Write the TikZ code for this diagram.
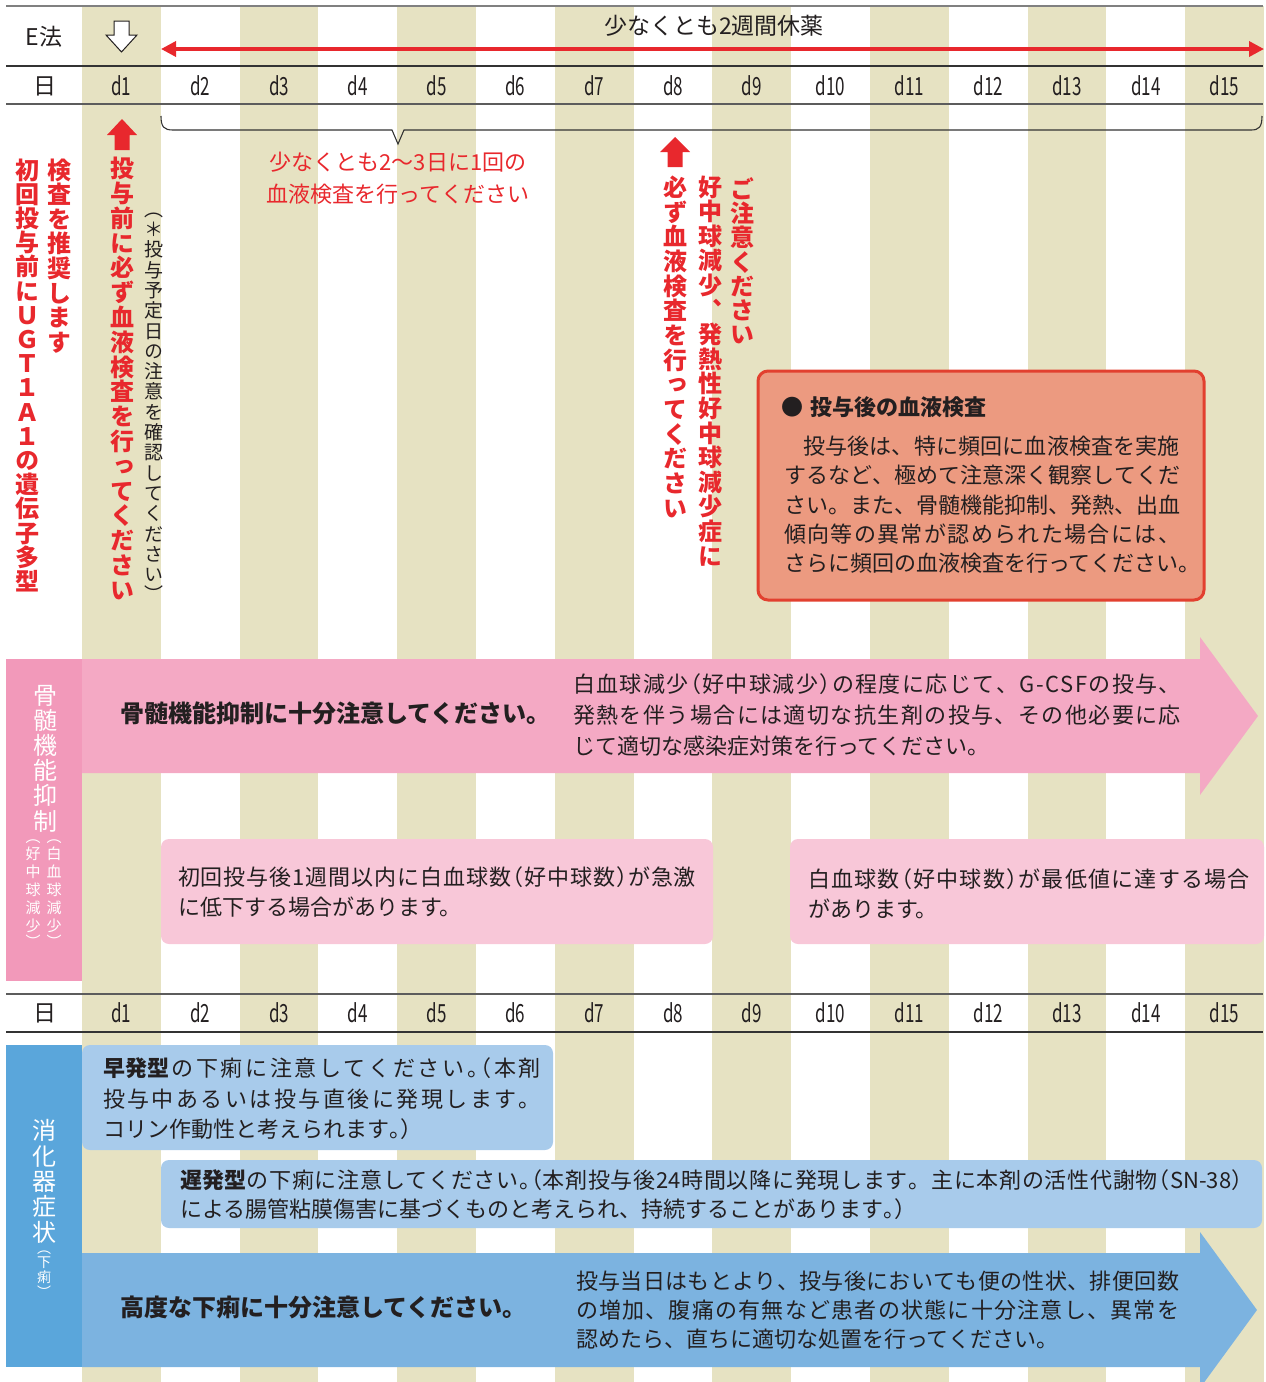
\documentclass[tikz,border=0pt]{standalone}
\usepackage{fontspec}
\setmainfont{Noto Sans CJK JP}
\newfontfamily\vfont{Noto Sans CJK JP}[RawFeature=+vert]
\newfontfamily\condfont{Noto Sans CJK JP}[FakeStretch=0.68]
\usetikzlibrary{arrows.meta}
\definecolor{ink}{HTML}{231F20}
\definecolor{redc}{HTML}{E8282D}
\definecolor{stripe}{HTML}{E6E2C2}
\definecolor{pinkband}{HTML}{F4A9C4}
\definecolor{pinklabel}{HTML}{F299BA}
\definecolor{lightpink}{HTML}{F8C7D8}
\definecolor{bluelabel}{HTML}{5AA6DB}
\definecolor{blueband}{HTML}{7CB3E0}
\definecolor{lightblue}{HTML}{A8CBEB}
\definecolor{salmon}{HTML}{EC9A80}
\definecolor{salmonedge}{HTML}{E2402F}
\definecolor{rulegray}{HTML}{808080}
\definecolor{ruledark}{HTML}{333333}
\newcommand\fs[2]{\fontsize{#1}{#2}\selectfont}
\newcommand\sq{\rule[-0.12em]{0pt}{1em}}
% justified line: glue between every token
\def\jfirst#1{{#1}\jrest}
\def\jrest#1{\ifx\relax#1\else\hskip0pt plus 1fil{#1}\expandafter\jrest\fi}
\newcommand\jl[2]{\hbox to #1{\jfirst#2\relax}}
\newcommand\lp{\makebox[0.5em][r]{（}}
\newcommand\rp{\makebox[0.5em][l]{）}}
\newcommand\hmaru{\makebox[0.5em][l]{。}}
% vertical stacking
\newcommand\vo{VOPEN}
\newcommand\vc{VCLOSE}
\newcommand\vtchar[1]{\hbox to 1em{\hss\raisebox{0pt}[0.88em][0.12em]{#1}\hss}}
\newcommand\vtopen{\hbox to 1em{\hss\raisebox{0.5em}[0.88em][0.12em]{（}\hss}\vskip-0.5\baselineskip}
\newcommand\vtclose{\vskip-0.5\baselineskip\hbox to 1em{\hss\raisebox{-0.5em}[0.38em][0.12em]{）}\hss}}
\def\vtdo#1{\ifx\vo#1\vtopen\else\ifx\vc#1\vtclose\else\vtchar{#1}\fi\fi}
\def\vtloop#1{\ifx\relax#1\let\vtnext\relax\else\vtdo#1\let\vtnext\vtloop\fi\vtnext}
\newcommand\vtext[2]{\vbox{\baselineskip=#1\relax\lineskiplimit=-100pt\lineskip=0pt\vtloop#2\relax}}
\begin{document}
\begin{tikzpicture}[x=1pt, y=-1pt,
  every node/.style={inner sep=0pt, outer sep=0pt},
  tx/.style={text=ink, font=\fs{22}{30}, execute at begin node=\sq},
  day/.style={text=ink, font=\condfont\fs{25}{25}, execute at begin node=\sq},
  vt/.style={anchor=north},
  vred/.style={vt, text=redc, font=\vfont\bfseries\fs{24}{24}},
  vwhite/.style={vt, text=white, font=\vfont\fs{24}{24}},
  vsmall/.style={vt, text=white, font=\vfont\fs{15}{15}},
  hrule/.style={line width=1.4pt},
  boxshape/.style={anchor=north west, rounded corners=8pt},
]
\useasboundingbox (0,0) rectangle (1266,1382);
% stripes
\foreach \k in {0,2,...,14}{
  \fill[stripe] ({82+\k*78.8},6) rectangle ({82+(\k+1)*78.8},1382);
}
% rules
\coordinate (r1a) at (6,6);    \coordinate (r1b) at (1263,6);
\coordinate (r2a) at (6,66);   \coordinate (r2b) at (1263,66);
\coordinate (r3a) at (6,104);  \coordinate (r3b) at (1263,104);
\coordinate (r4a) at (6,994);  \coordinate (r4b) at (1263,994);
\coordinate (r5a) at (6,1032); \coordinate (r5b) at (1263,1032);
\draw[hrule, rulegray] (r1a) -- (r1b);
\draw[hrule, ruledark] (r2a) -- (r2b);
\draw[hrule, ruledark!80!white] (r3a) -- (r3b);
\draw[hrule, ruledark!80!white] (r4a) -- (r4b);
\draw[hrule, ruledark] (r5a) -- (r5b);
% header
\node[tx, font=\fs{23}{23}] (eho) at (44,37) {E法};
\node[tx, font=\fs{23}{23}] (hi1) at (45,86) {日};
\node[tx, font=\fs{23}{23}] (hi2) at (45,1013) {日};
\foreach \k in {1,...,15}{
  \node[day] (dt\k) at ({82+(\k-0.5)*78.8},86) {d\k};
  \node[day] (db\k) at ({82+(\k-0.5)*78.8},1013) {d\k};
}
\node[tx, font=\fs{23}{23}] (kyuyaku) at (714,26) {少なくとも2週間休薬};
\coordinate (ka) at (161,49); \coordinate (kb) at (1264,49);
\draw[redc, line width=3.5pt, {Triangle[length=15pt,width=15pt]}-{Triangle[length=15pt,width=15pt]}] (ka) -- (kb);
% white down arrow at d1
\draw[ink, line width=1pt, fill=white, line join=miter] (114,21) -- (129,21) -- (129,35) -- (137,35) -- (121.5,52) -- (106,35) -- (114,35) -- cycle;
% brace
\draw[ruledark, line width=1.1pt] (161,116) .. controls (161,127) and (164,130) .. (173,130) -- (392,130) -- (398,144) -- (404,130) -- (1251,130) .. controls (1259,130) and (1262,127) .. (1262,116);
\node[tx, text=redc, align=center, anchor=north, font=\fs{22}{32}] (bracelbl) at (398,152) {少なくとも2〜3日に1回の\\血液検査を行ってください};
% red up arrows
\fill[redc] (122,119) -- (137,135) -- (129.5,135) -- (129.5,150) -- (114.5,150) -- (114.5,135) -- (107,135) -- cycle;
\fill[redc] (675,137) -- (690,152) -- (682.5,152) -- (682.5,167) -- (667.5,167) -- (667.5,152) -- (660,152) -- cycle;
% vertical texts
\node[vred] (vcol1) at (27,158) {\vtext{24.2pt}{初回投与前にＵＧＴ１Ａ１の遺伝子多型}};
\node[vred] (vcol2) at (59,158) {\vtext{24.6pt}{検査を推奨します}};
\node[vred] (vcol3) at (122,156.5) {\vtext{24.8pt}{投与前に必ず血液検査を行ってください}};
\node[vt, text=ink, font=\vfont\fs{19}{19}] (vnote) at (154,199.5) {\vtext{20.3pt}{（＊投与予定日の注意を確認してください）}};
\node[vred] (vcol4) at (675,175.5) {\vtext{24.65pt}{必ず血液検査を行ってください}};
\node[vred] (vcol5) at (710,175) {\vtext{24.6pt}{好中球減少、発熱性好中球減少症に}};
\node[vred] (vcol6) at (742,177) {\vtext{24.3pt}{ご注意ください}};
% salmon box
\node[boxshape, fill=salmon, draw=salmonedge, line width=3pt, rounded corners=10pt, minimum width=446pt, minimum height=229pt] (kensabox) at (758,371) {};
\node[tx, font=\bfseries\fs{22}{22}, anchor=west] (kensattl) at (781,407) {●\hspace{8pt}投与後の血液検査};
\node[tx, align=left, anchor=north west, font=\fs{22}{29.3}] (kensabody) at (784,436) {%
\jl{396pt}{{\hspace{19pt}}投与後は、特に頻回に血液検査を実施}\\
\jl{396pt}{するなど、極めて注意深く観察してくだ}\\
\jl{396pt}{さい。また、骨髄機能抑制、発熱、出血}\\
\jl{396pt}{傾向等の異常が認められた場合には、}\\
さらに頻回の血液検査を行ってください。};
% bone marrow section
\node[anchor=north west, fill=pinklabel, minimum width=76pt, minimum height=322pt] (plabel) at (6,659) {};
\fill[pinkband] (82,659) -- (1200,659) -- (1200,637) -- (1258,716) -- (1200,795) -- (1200,773) -- (82,773) -- cycle;
\node[vwhite] (vkotsu) at (45,683) {\vtext{25.2pt}{骨髄機能抑制}};
\node[vsmall] (vwbc) at (54,837) {\vtext{18pt}{\vo 白血球減少\vc}};
\node[vsmall] (vneu) at (33,837) {\vtext{18pt}{\vo 好中球減少\vc}};
\node[tx, font=\bfseries\fs{24}{24}, anchor=west] (kotsuttl) at (120,713) {骨髄機能抑制に十分注意してください。};
\node[tx, align=left, anchor=north west, font=\fs{22}{31}] (kotsubody) at (573,674) {%
\jl{608pt}{白血球減少\lp 好中球減少\rp の程度に応じて、G-CSFの投与、}\\
\jl{608pt}{発熱を伴う場合には適切な抗生剤の投与、その他必要に応}\\
じて適切な感染症対策を行ってください。};
\node[boxshape, fill=lightpink, minimum width=552pt, minimum height=105pt] (pbox1) at (161,839) {};
\node[boxshape, fill=lightpink, minimum width=474pt, minimum height=105pt] (pbox2) at (790,839) {};
\node[tx, align=left, anchor=north west] (pbox1txt) at (178,867) {%
\jl{518pt}{初回投与後1週間以内に白血球数\lp 好中球数\rp が急激}\\
に低下する場合があります。};
\node[tx, align=left, anchor=north west] (pbox2txt) at (808,869) {%
\jl{442pt}{白血球数\lp 好中球数\rp が最低値に達する場合}\\
があります。};
% GI section
\node[anchor=north west, fill=bluelabel, minimum width=76pt, minimum height=322pt] (blabel) at (6,1045) {};
\node[vwhite] (vshoka) at (44,1118.5) {\vtext{25.4pt}{消化器症状}};
\node[vt, text=white, font=\vfont\fs{14}{14}] (vgeri) at (44,1248) {\vtext{15pt}{\vo 下痢\vc}};
\node[boxshape, fill=lightblue, minimum width=471pt, minimum height=105pt] (bbox1) at (82,1045) {};
\node[tx, align=left, anchor=north west, font=\fs{22}{30.5}] (bbox1txt) at (103,1058) {%
\jl{438pt}{{\bfseries 早発型}の下痢に注意してください\hmaru\lp 本剤}\\
\jl{438pt}{投与中あるいは投与直後に発現します。}\\
コリン作動性と考えられます\hmaru\rp};
\node[boxshape, fill=lightblue, minimum width=1101pt, minimum height=68pt] (bbox2) at (161,1160) {};
\node[tx, align=left, anchor=north west, font=\fs{22}{29}] (bbox2txt) at (180,1170) {%
\jl{1063pt}{{\bfseries 遅発型}の下痢に注意してください\hmaru\lp 本剤投与後{24}時間以降に発現します。主に本剤の活性代謝物\lp{SN-38}\rp}\\
による腸管粘膜傷害に基づくものと考えられ、持続することがあります\hmaru\rp};
\fill[blueband] (82,1253) -- (1200,1253) -- (1200,1232) -- (1257,1310) -- (1200,1388) -- (1200,1367) -- (82,1367) -- cycle;
\node[tx, font=\bfseries\fs{24}{24}, anchor=west] (gerittl) at (120,1307) {高度な下痢に十分注意してください。};
\node[tx, align=left, anchor=north west, font=\fs{22}{29}] (geribody) at (576,1271) {%
\jl{603pt}{投与当日はもとより、投与後においても便の性状、排便回数}\\
\jl{603pt}{の増加、腹痛の有無など患者の状態に十分注意し、異常を}\\
認めたら、直ちに適切な処置を行ってください。};
\end{tikzpicture}
\end{document}
